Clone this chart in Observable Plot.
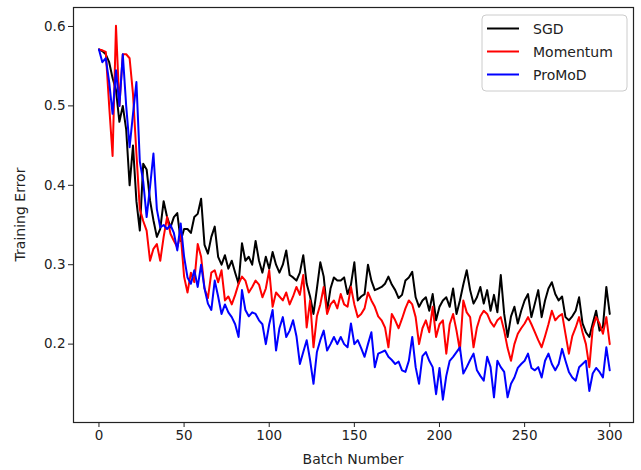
<!DOCTYPE html>
<html><head><meta charset="utf-8">
<script src="https://cdn.jsdelivr.net/npm/d3@7"></script>
<script src="https://cdn.jsdelivr.net/npm/@observablehq/plot@0.6"></script>
<style>
html,body{margin:0;padding:0;background:#fff;}
#chart{position:relative;width:641px;height:470px;}
</style></head><body><div id="chart"></div>
<script>
const seriesNames = ["SGD", "Momentum", "ProMoD"];
const seriesColors = ["#000000", "#ff0000", "#0000ff"];
const xTicks = [0, 50, 100, 150, 200, 250, 300];
const yTicks = [0.2, 0.3, 0.4, 0.5, 0.6];
const xLabel = "Batch Number";
const yLabel = "Training Error";

const sgd = [
0.571,0.569,0.565,0.555,0.535,0.52,0.48,0.50,0.47,0.40,
0.45,0.38,0.343,0.427,0.42,0.381,0.356,0.335,0.345,0.38,
0.36,0.347,0.36,0.365,0.33,0.345,0.345,0.34,0.36,0.364,
0.383,0.325,0.314,0.335,0.348,0.31,0.30,0.312,0.295,0.305,
0.29,0.276,0.327,0.305,0.31,0.30,0.33,0.305,0.29,0.31,
0.295,0.316,0.30,0.29,0.30,0.318,0.287,0.284,0.28,0.29,
0.312,0.276,0.26,0.238,0.27,0.303,0.285,0.242,0.27,0.284,
0.28,0.28,0.284,0.263,0.275,0.303,0.255,0.26,0.263,0.30,
0.28,0.268,0.27,0.272,0.276,0.285,0.275,0.268,0.258,0.262,
0.28,0.284,0.291,0.259,0.247,0.255,0.259,0.242,0.263,0.23,
0.247,0.255,0.259,0.247,0.27,0.238,0.255,0.275,0.293,0.268,
0.251,0.259,0.272,0.251,0.268,0.242,0.262,0.24,0.287,0.238,
0.209,0.235,0.247,0.226,0.242,0.255,0.263,0.234,0.251,0.268,
0.234,0.255,0.27,0.278,0.263,0.255,0.26,0.234,0.23,0.235,
0.242,0.259,0.226,0.215,0.209,0.226,0.242,0.217,0.222,0.272,
0.238];

const momentum = [
0.571,0.570,0.568,0.50,0.437,0.601,0.50,0.565,0.565,0.56,
0.515,0.44,0.37,0.355,0.343,0.305,0.32,0.326,0.305,0.335,
0.36,0.339,0.33,0.322,0.339,0.285,0.265,0.29,0.278,0.326,
0.31,0.27,0.258,0.29,0.293,0.278,0.293,0.255,0.26,0.25,
0.262,0.276,0.285,0.28,0.265,0.272,0.28,0.275,0.259,0.27,
0.293,0.247,0.265,0.26,0.255,0.265,0.25,0.26,0.272,0.262,
0.287,0.221,0.255,0.196,0.235,0.25,0.272,0.238,0.25,0.255,
0.245,0.263,0.25,0.247,0.272,0.25,0.234,0.238,0.245,0.265,
0.255,0.247,0.235,0.23,0.221,0.196,0.238,0.23,0.22,0.232,
0.245,0.255,0.25,0.234,0.2,0.22,0.23,0.215,0.247,0.209,
0.225,0.23,0.188,0.225,0.238,0.217,0.192,0.255,0.24,0.234,
0.196,0.221,0.235,0.242,0.238,0.228,0.222,0.23,0.234,0.217,
0.195,0.179,0.2,0.213,0.22,0.226,0.234,0.225,0.215,0.205,
0.196,0.21,0.225,0.242,0.23,0.235,0.238,0.213,0.188,0.21,
0.221,0.234,0.215,0.2,0.171,0.22,0.234,0.226,0.213,0.234,
0.2];

const promod = [
0.571,0.555,0.56,0.53,0.49,0.545,0.50,0.565,0.50,0.448,
0.49,0.53,0.43,0.405,0.36,0.398,0.44,0.37,0.347,0.35,
0.345,0.35,0.34,0.318,0.352,0.31,0.284,0.276,0.293,0.272,
0.30,0.27,0.251,0.243,0.28,0.26,0.238,0.25,0.24,0.234,
0.225,0.209,0.268,0.243,0.235,0.24,0.238,0.23,0.225,0.2,
0.225,0.243,0.192,0.22,0.234,0.209,0.217,0.23,0.21,0.175,
0.19,0.205,0.18,0.15,0.19,0.205,0.217,0.192,0.2,0.209,
0.2,0.209,0.2,0.196,0.226,0.2,0.205,0.195,0.184,0.2,
0.215,0.171,0.188,0.19,0.192,0.184,0.18,0.175,0.178,0.167,
0.165,0.179,0.209,0.171,0.15,0.185,0.19,0.179,0.171,0.137,
0.17,0.13,0.16,0.179,0.184,0.19,0.196,0.163,0.171,0.18,
0.188,0.167,0.16,0.154,0.184,0.171,0.133,0.179,0.171,0.165,
0.133,0.15,0.158,0.17,0.175,0.179,0.188,0.17,0.167,0.171,
0.158,0.179,0.188,0.175,0.167,0.175,0.194,0.179,0.165,0.158,
0.154,0.171,0.175,0.179,0.141,0.163,0.17,0.165,0.158,0.196,
0.167];

const batches = sgd.map((_, i) => i * 2);

const rows = [];
[sgd, momentum, promod].forEach((arr, s) =>
  arr.forEach((v, i) => rows.push({batch: batches[i], value: v, series: seriesNames[s]}))
);

const W = 641, H = 470;
const mL = 73, mR = 8, mT = 7, mB = 48;

const plot = Plot.plot({
  width: W, height: H,
  marginLeft: mL, marginRight: mR, marginTop: mT, marginBottom: mB,
  style: {fontFamily: "DejaVu Sans, sans-serif", fontSize: "13.5px", color: "#222", background: "#fff", overflow: "visible"},
  x: {domain: [-14.95, 313.95], ticks: xTicks, tickSize: 5, tickPadding: 3, label: null},
  y: {domain: [0.1013, 0.6239], ticks: yTicks, tickFormat: ".1f", tickSize: 5, tickPadding: 3, label: null},
  color: {domain: seriesNames, range: seriesColors},
  marks: [
    Plot.line(rows, {x: "batch", y: "value", z: "series", stroke: "series", strokeWidth: 2, strokeLinejoin: "round"}),
    Plot.frame({stroke: "#222", strokeWidth: 1.2})
  ]
});

const svg = d3.select(plot);
const font = "DejaVu Sans, sans-serif";
// axis titles
svg.append("text")
  .attr("x", mL + (W - mL - mR) / 2).attr("y", H - 6)
  .attr("text-anchor", "middle")
  .attr("font-family", font).attr("font-size", 14).attr("fill", "#222")
  .text(xLabel);
svg.append("text")
  .attr("transform", `translate(${25},${mT + (H - mT - mB) / 2}) rotate(-90)`)
  .attr("text-anchor", "middle")
  .attr("font-family", font).attr("font-size", 14).attr("fill", "#222")
  .text(yLabel);

// legend
const lg = svg.append("g").attr("transform", "translate(482,15)");
lg.append("rect").attr("width", 145).attr("height", 76).attr("rx", 4)
  .attr("fill", "#fff").attr("fill-opacity", 0.85).attr("stroke", "#ccc");
seriesNames.forEach((name, i) => {
  const y = 13.5 + i * 23;
  lg.append("line").attr("x1", 5).attr("x2", 37).attr("y1", y).attr("y2", y)
    .attr("stroke", seriesColors[i]).attr("stroke-width", 2);
  lg.append("text").attr("x", 51).attr("y", y + 5)
    .attr("text-anchor", "start")
    .attr("font-family", font).attr("font-size", 14).attr("fill", "#222")
    .text(name);
});

document.getElementById("chart").appendChild(plot);
</script></body></html>
